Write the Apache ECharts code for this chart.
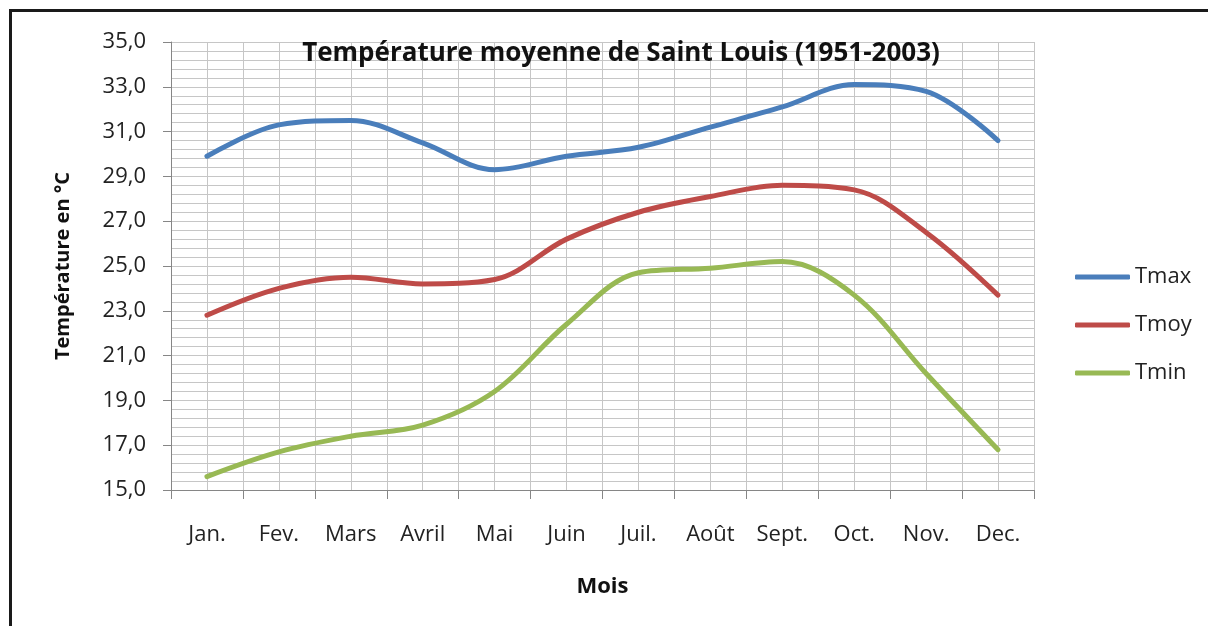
<!DOCTYPE html>
<html>
<head>
<meta charset="utf-8">
<script src="https://cdn.jsdelivr.net/npm/echarts@6/dist/echarts.min.js"></script>
<style>
  html, body { margin: 0; padding: 0; background: #fff; overflow: hidden; }
  #chart { position: absolute; left: 0; top: 0; width: 1208px; height: 626px; }
  /* cadre du graphique (bord gauche et haut) */
  #frame { position: absolute; left: 9px; top: 9px; width: 1199px; height: 617px;
           border-left: 3px solid #1a1a1a; border-top: 3px solid #1a1a1a;
           box-sizing: border-box; pointer-events: none; }
</style>
</head>
<body>
<div id="chart"></div>
<div id="frame"></div>
<script>
const mois = ['Jan.', 'Fev.', 'Mars', 'Avril', 'Mai', 'Juin', 'Juil.', 'Août', 'Sept.', 'Oct.', 'Nov.', 'Dec.'];
const tmax = [29.9, 31.3, 31.5, 30.5, 29.3, 29.9, 30.3, 31.2, 32.1, 33.1, 32.8, 30.6];
const tmoy = [22.8, 24.0, 24.5, 24.2, 24.4, 26.2, 27.4, 28.1, 28.6, 28.4, 26.5, 23.7];
const tmin = [15.6, 16.7, 17.4, 17.9, 19.4, 22.4, 24.7, 24.9, 25.2, 23.7, 20.2, 16.8];

const font = '"Open Sans", "Noto Sans", sans-serif';
const gridColor = '#c6c6c6';
const axisColor = '#868686';

const chart = echarts.init(document.getElementById('chart'));

const serie = (name, data, color) => ({
  name,
  data,
  type: 'line',
  xAxisIndex: 0,
  smooth: 0.35,
  showSymbol: false,
  symbol: 'none',
  lineStyle: { color, width: 5, cap: 'round' },
  itemStyle: { color },
  z: 3
});

chart.setOption({
  animation: false,
  textStyle: { fontFamily: font },
  title: {
    text: 'Température moyenne de Saint Louis (1951-2003)',
    left: 616,
    top: 36,
    textAlign: 'center',
    textStyle: { fontFamily: font, fontSize: 26, fontWeight: 'bold', color: '#111' }
  },
  legend: {
    orient: 'vertical',
    left: 1075,
    top: 266,
    padding: 0,
    itemWidth: 55,
    itemHeight: 5,
    itemGap: 26,
    icon: 'roundRect',
    textStyle: { fontFamily: font, fontSize: 22, color: '#222', lineHeight: 22 },
    data: ['Tmax', 'Tmoy', 'Tmin']
  },
  grid: { left: 171, right: 174, top: 42, bottom: 136 },
  xAxis: [
    {
      type: 'category',
      data: mois,
      boundaryGap: true,
      name: 'Mois',
      nameLocation: 'middle',
      nameGap: 86,
      nameTextStyle: { fontFamily: font, fontSize: 22, fontWeight: 'bold', color: '#111' },
      axisLine: { lineStyle: { color: axisColor, width: 1 } },
      axisTick: { show: true, length: 9, lineStyle: { color: axisColor } },
      axisLabel: { fontFamily: font, fontSize: 22, color: '#222', margin: 34 },
      splitLine: { show: false }
    },
    {
      // lignes verticales secondaires (demi-mois)
      type: 'value',
      position: 'top',
      min: 0,
      max: 24,
      interval: 1,
      axisLine: { show: false },
      axisTick: { show: false },
      axisLabel: { show: false },
      splitLine: { show: true, lineStyle: { color: gridColor, width: 1 } }
    }
  ],
  yAxis: {
    type: 'value',
    min: 15,
    max: 35,
    interval: 2,
    name: 'Température en °C',
    nameLocation: 'middle',
    nameGap: 98,
    nameTextStyle: { fontFamily: font, fontSize: 20, fontWeight: 'bold', color: '#111' },
    axisLine: { show: true, lineStyle: { color: axisColor, width: 1 } },
    axisTick: { show: true, length: 8, lineStyle: { color: axisColor } },
    axisLabel: {
      fontFamily: font, fontSize: 22, color: '#222', margin: 25,
      formatter: v => v.toFixed(1).replace('.', ',')
    },
    splitLine: { show: true, lineStyle: { color: gridColor, width: 1 } },
    minorTick: { show: false, splitNumber: 5 },
    minorSplitLine: { show: true, lineStyle: { color: gridColor, width: 1 } }
  },
  series: [
    serie('Tmax', tmax, '#4a7ebb'),
    serie('Tmoy', tmoy, '#be4b48'),
    serie('Tmin', tmin, '#98b954')
  ]
});
</script>
</body>
</html>
